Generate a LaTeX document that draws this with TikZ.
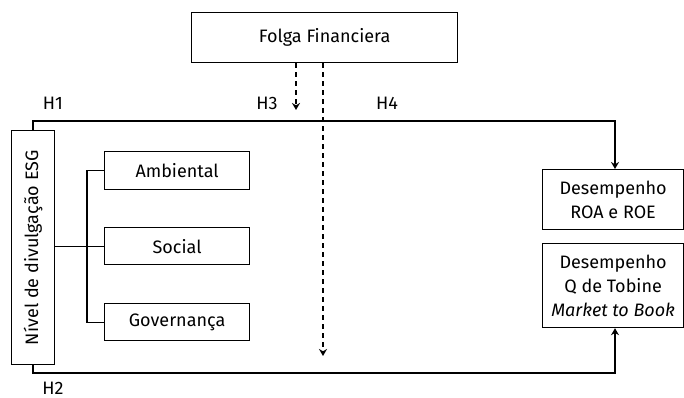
\documentclass[tikz,border=0pt]{standalone}
\usepackage{fontspec}
\setmainfont{Fira Sans}
\usetikzlibrary{arrows.meta}
\begin{document}
\begin{tikzpicture}[x=1pt,y=-1pt,
  box/.style={draw,line width=1.2pt,inner sep=0pt,anchor=north west,align=center,font=\fontsize{18}{24}\selectfont},
  conn/.style={line width=1.2pt},
  dsh/.style={line width=1.2pt,dash pattern=on 5pt off 4pt},
  tip/.style={-{Stealth[length=7pt,width=8pt]}},
  lbl/.style={font=\fontsize{18}{20}\selectfont,inner sep=0pt}]
\useasboundingbox (0,0) rectangle (684,398);
\node[box,minimum width=266pt,minimum height=50pt] (folga) at (191,12) {Folga Financiera};
\node[box,minimum width=43pt,minimum height=234pt] (esg) at (11,130) {};
\node[lbl,rotate=90] (esgt) at (esg.center) {Nível de divulgação ESG};
\node[box,minimum width=145pt,minimum height=38pt] (amb) at (104,151) {Ambiental};
\node[box,minimum width=145pt,minimum height=37pt] (soc) at (104,227) {Social};
\node[box,minimum width=145pt,minimum height=37pt] (gov) at (104,303) {Governança};
\node[box,minimum width=141pt,minimum height=60pt] (roa) at (542,169) {Desempenho\\ROA e ROE};
\node[box,minimum width=141pt,minimum height=84pt] (tob) at (542,243) {Desempenho\\Q de Tobine\\\textit{Market to Book}};
\node[lbl] (h1) at (53,103) {H1};
\node[lbl] (h3) at (267,103) {H3};
\node[lbl] (h4) at (387,103) {H4};
\node[lbl] (h2) at (53,388) {H2};
\coordinate (topL) at (33,121);
\coordinate (topR) at (615,121);
\coordinate (botL) at (33,373);
\coordinate (botR) at (615,373);
\coordinate (br) at (87,246);
% branches
\draw[conn] (esg.east |- soc.west) -- (soc.west);
\draw[conn] (amb.west) -| (br) |- (gov.west);
% H1/H4 top path
\draw[conn,tip] (esg.north -| topL) -- (topL) -- (topR) -- (roa.north -| topR);
% H2 bottom path
\draw[conn,tip] (esg.south -| botL) -- (botL) -- (botR) -- (tob.south -| botR);
% dashed moderators
\draw[dsh,tip] (folga.south -| 296,0) -- (296,110);
\draw[dsh,tip] (folga.south -| 323,0) -- (323,356);
\end{tikzpicture}
\end{document}
